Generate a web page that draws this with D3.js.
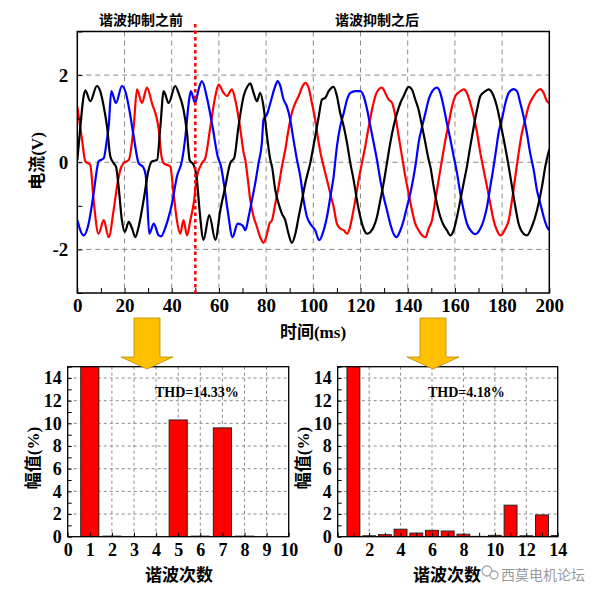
<!DOCTYPE html>
<html><head><meta charset="utf-8">
<script src="https://cdn.jsdelivr.net/npm/d3@7"></script>
<style>body{margin:0;background:#fff}svg{display:block}</style>
</head><body><svg id="c" width="608" height="593"></svg>
<script>
// ---- waveform data: [time ms, current V] ----
const blackPhase = [[0,0.05],[1.3,0.82],[2.7,1.52],[3.4,1.65],[5.5,1.4],[8.3,1.75],[9.7,1.63],[11.2,1.28],[12.6,0.82],[14.0,0.13],[15.4,-0.02],[16.4,-0.1],[17.5,-0.56],[18.9,-1.33],[20.1,-1.6],[21.8,-1.37],[23.2,-1.52],[24.6,-1.72],[26.0,-1.48],[28.1,-0.87],[30.2,-0.18],[31.6,0.02],[33.8,0.05],[35.2,0.82],[36.6,1.63],[38.7,1.36],[41.5,1.75],[42.9,1.59],[45.0,1.21],[46.5,0.67],[47.6,0.05],[49.3,-0.06],[50.7,-0.41],[51.8,-1.10],[53.5,-1.78],[55.9,-1.21],[58.5,-1.78],[60.6,-1.1],[62.7,-0.56],[64.8,-0.02],[66.5,0.1],[68.3,0.82],[70.5,1.52],[72.2,1.75],[73.3,1.81],[74.7,1.59],[76.1,1.40],[77.5,1.59],[78.9,1.28],[80.4,0.59],[81.8,0.05],[82.5,-0.1],[83.9,-0.64],[85.3,-0.95],[86.7,-1.18],[88.1,-1.33],[89.5,-1.64],[90.9,-1.85],[92.4,-1.64],[93.8,-1.25],[95.2,-0.87],[96.6,-0.48],[98.7,-0.02],[100.8,0.59],[102.3,1.05],[103.7,1.44],[105.1,1.48],[106.5,1.63],[108.6,1.73],[110.0,1.52],[111.4,1.13],[112.9,0.82],[114.3,0.44],[115.7,-0.02],[117.1,-0.41],[118.5,-0.87],[119.9,-1.25],[121.3,-1.52],[122.8,-1.64],[124.2,-1.6],[125.6,-1.48],[127.0,-1.25],[128.4,-0.87],[129.8,-0.48],[131.2,-0.02],[132.6,0.44],[134.0,0.82],[135.5,1.13],[136.9,1.36],[138.3,1.52],[140.4,1.73],[141.8,1.67],[143.2,1.44],[144.6,1.21],[146.1,0.82],[147.5,0.44],[148.9,0.05],[149.6,-0.1],[151.0,-0.56],[152.4,-0.95],[153.8,-1.25],[155.2,-1.44],[156.6,-1.56],[158.1,-1.68],[159.5,-1.56],[160.9,-1.25],[162.3,-0.87],[163.7,-0.48],[165.1,-0.1],[166.5,0.36],[168.0,0.82],[169.4,1.21],[170.8,1.52],[172.9,1.63],[174.3,1.67],[176.4,1.52],[177.8,1.28],[179.3,0.9],[180.7,0.52],[182.8,-0.1],[184.2,-0.56],[185.6,-1.02],[187.0,-1.41],[189.1,-1.64],[190.5,-1.68],[192.6,-1.48],[194.8,-1.1],[196.9,-0.56],[198.3,-0.1],[200,0.3]];
const bluePhase = [[0,-1.33],[2.7,-1.68],[4.8,-1.41],[6.9,-0.72],[8.5,-0.1],[9.0,0.02],[11.2,0.09],[12.5,0.5],[13.3,0.82],[14.4,1.63],[16.4,1.36],[18.9,1.75],[20.5,1.6],[21.8,1.28],[23.9,0.59],[26.0,-0.02],[28.0,-0.12],[29.0,-0.3],[29.5,-0.72],[30.5,-1.64],[32.4,-1.41],[34.5,-1.68],[35.5,-1.7],[37.3,-1.5],[38.5,-1.3],[40.1,-0.95],[42.2,-0.33],[44.4,0.05],[45.8,0.59],[47.2,1.36],[48.1,1.63],[49.9,1.36],[51.4,1.67],[52.8,1.86],[55.1,1.44],[57.3,0.82],[59.5,0.13],[60.9,-0.1],[62.3,-0.56],[63.7,-1.1],[65.8,-1.72],[67.9,-1.41],[70.0,-1.45],[71.2,-1.56],[72.6,-1.25],[74.0,-0.87],[75.4,-0.48],[76.8,-0.02],[78.2,0.44],[78.9,0.98],[80.4,1.1],[81.8,1.36],[83.9,1.75],[84.9,1.86],[86.0,1.75],[87.4,1.44],[88.8,1.28],[90.2,0.98],[91.6,0.52],[93.1,0.05],[94.5,-0.33],[95.9,-0.87],[97.3,-1.25],[98.7,-1.41],[100.8,-1.56],[102.5,-1.79],[104.4,-1.56],[105.8,-1.25],[107.2,-0.8],[108.6,-0.33],[110.0,0.36],[111.4,0.82],[112.9,1.13],[114.3,1.44],[115.7,1.59],[117.8,1.63],[119.9,1.63],[121.3,1.52],[122.8,1.21],[124.2,0.82],[125.6,0.44],[127.0,0.05],[128.4,-0.41],[129.8,-0.79],[131.2,-1.1],[132.6,-1.41],[134.0,-1.64],[135.2,-1.72],[136.9,-1.56],[138.3,-1.33],[139.7,-1.02],[141.1,-0.72],[142.5,-0.33],[143.5,0.0],[144.6,0.44],[146.1,0.82],[147.5,1.13],[148.9,1.44],[151.0,1.67],[152.4,1.71],[153.8,1.59],[155.2,1.28],[156.6,0.9],[158.1,0.52],[159.5,0.13],[160.9,-0.25],[162.3,-0.72],[163.7,-1.1],[165.1,-1.41],[167.2,-1.6],[168.6,-1.65],[170.8,-1.52],[172.2,-1.33],[173.6,-1.02],[175.0,-0.56],[176.4,-0.1],[177.5,0.3],[178.5,0.67],[179.9,0.98],[181.4,1.36],[182.8,1.59],[184.9,1.68],[186.3,1.63],[187.7,1.36],[189.1,1.05],[190.5,0.67],[191.9,0.21],[193.4,-0.18],[194.8,-0.65],[196.2,-0.95],[197.6,-1.25],[199.0,-1.48],[200,-1.56]];
const redPhase = [[0,1.28],[2.0,0.52],[3.4,0.02],[5.5,-0.06],[6.9,-0.87],[9.0,-1.64],[11.2,-1.33],[13.3,-1.72],[15.4,-1.1],[17.0,-0.5],[18.2,-0.18],[19.6,-0.02],[21.8,0.05],[23.9,0.82],[25.3,1.67],[27.4,1.36],[29.5,1.71],[31.6,1.36],[34.5,0.75],[35.5,0.2],[36.6,-0.02],[39.4,-0.1],[40.8,-0.72],[42.2,-1.33],[43.6,-1.64],[45.0,-1.33],[46.5,-1.68],[47.9,-1.33],[49.3,-0.95],[50.7,-0.33],[52.8,-0.02],[54.2,0.09],[56.4,0.82],[58.5,1.52],[59.9,1.78],[62.0,1.59],[63.4,1.52],[65.5,1.67],[66.9,1.44],[69.1,0.75],[70.5,0.21],[71.2,0.05],[72.3,-0.41],[73.3,-0.87],[74.7,-1.25],[76.1,-1.48],[77.5,-1.72],[78.9,-1.85],[80.4,-1.64],[81.4,-1.41],[82.5,-1.33],[83.9,-0.95],[85.3,-0.56],[86.7,-0.1],[88.1,0.28],[89.5,0.75],[90.9,1.13],[92.4,1.36],[93.8,1.52],[95.5,1.75],[96.6,1.82],[98.0,1.71],[99.4,1.36],[100.8,0.98],[102.3,0.44],[103.7,0.05],[105.1,-0.25],[106.5,-0.56],[107.9,-0.87],[108.6,-1.02],[110.0,-1.41],[111.4,-1.52],[112.9,-1.56],[114.3,-1.64],[115.4,-1.52],[116.5,-1.25],[117.8,-0.87],[119.2,-0.41],[120.6,-0.02],[122.0,0.36],[123.5,0.82],[124.9,1.21],[126.3,1.52],[127.7,1.67],[129.1,1.71],[130.5,1.59],[131.9,1.44],[133.4,1.36],[134.8,1.05],[136.2,0.59],[137.6,0.13],[139.0,-0.33],[140.4,-0.72],[141.8,-1.1],[143.2,-1.41],[144.6,-1.56],[146.1,-1.68],[147.5,-1.72],[148.9,-1.52],[150.3,-1.33],[151.7,-0.87],[153.1,-0.41],[154.5,0.05],[156.0,0.52],[157.4,0.9],[158.8,1.28],[160.2,1.52],[162.3,1.63],[163.7,1.67],[165.1,1.59],[166.5,1.36],[168.0,1.05],[169.4,0.67],[170.8,0.21],[172.2,-0.18],[173.6,-0.56],[175.0,-0.95],[176.4,-1.33],[177.8,-1.56],[179.3,-1.68],[180.7,-1.6],[181.4,-1.52],[182.8,-1.33],[184.2,-0.87],[185.6,-0.33],[187.0,0.21],[188.4,0.67],[189.8,0.98],[191.2,1.28],[193.4,1.52],[194.8,1.63],[196.2,1.68],[197.6,1.59],[199.0,1.4],[200,1.36]];
const switchTime = 50;
const timeTicks = [0,20,40,60,80,100,120,140,160,180,200];
const currentTicks = [-2,0,2];

// ---- harmonic spectra ----
const orderBefore = [1,2,5,6,7,8];
const ampBefore   = [100,0.05,10.3,0.05,9.6,0.05];
const orderAfter  = [1,2,3,4,5,6,7,8,9,10,11,12,13,14];
const ampAfter    = [100,0.08,0.18,0.66,0.32,0.56,0.5,0.22,0.03,0.12,2.78,0.08,1.92,0.1];
const ampTicks = [0,2,4,6,8,10,12,14];
const thdBefore = "THD=14.33%";
const thdAfter  = "THD=4.18%";

const CJK = "'Noto Sans CJK SC','Noto Sans',sans-serif";
const SERIF = "'Liberation Serif','Times New Roman',serif";
const svg = d3.select("#c");
const defs = svg.append("defs");

// ================= top waveform chart =================
const xT = d3.scaleLinear([0,200],[77.3,549.3]);
const yT = d3.scaleLinear([-3,3],[293,31.5]);
defs.append("clipPath").attr("id","clipT").append("rect")
  .attr("x",xT(0)).attr("y",yT(3)).attr("width",xT(200)-xT(0)).attr("height",yT(-3)-yT(3));

const gT = svg.append("g");
gT.append("g").selectAll("line").data(timeTicks.slice(1,-1)).join("line")
  .attr("x1",d=>xT(d)).attr("x2",d=>xT(d)).attr("y1",yT(3)).attr("y2",yT(-3))
  .attr("stroke","#8a8a8a").attr("stroke-width",1).attr("stroke-dasharray","5,4");
gT.append("g").selectAll("line").data(currentTicks).join("line")
  .attr("x1",xT(0)).attr("x2",xT(200)).attr("y1",d=>yT(d)).attr("y2",d=>yT(d))
  .attr("stroke","#8a8a8a").attr("stroke-width",1).attr("stroke-dasharray","5,4");

const line = d3.line().x(d=>xT(d[0])).y(d=>yT(d[1])).curve(d3.curveMonotoneX);
const waves = gT.append("g").attr("clip-path","url(#clipT)");
[[redPhase,"#ff0000"],[bluePhase,"#0000ff"],[blackPhase,"#000000"]].forEach(([d,c])=>{
  waves.append("path").datum(d).attr("d",line).attr("fill","none")
    .attr("stroke",c).attr("stroke-width",2.2).attr("stroke-linejoin","round");
});

const axB = d3.axisBottom(xT).tickValues(d3.range(0,201,10))
  .tickFormat(d=> d%20===0 ? d : "").tickSizeInner(-5).tickSizeOuter(0).tickPadding(6);
gT.append("g").attr("transform",`translate(0,${yT(-3)})`).call(axB);
const axL = d3.axisLeft(yT).tickValues([-3,-2,-1,0,1,2,3])
  .tickFormat(d=> currentTicks.includes(d) ? d : "").tickSizeInner(-5).tickSizeOuter(0).tickPadding(9);
gT.append("g").attr("transform",`translate(${xT(0)},0)`).call(axL);
gT.selectAll(".tick text").filter(function(){return this.textContent===""}).remove();
gT.selectAll(".tick text").attr("font-family",SERIF).attr("font-weight","bold").attr("font-size",19).attr("fill","#000");
gT.selectAll(".domain").remove();
gT.append("rect").attr("x",xT(0)).attr("y",yT(3)).attr("width",xT(200)-xT(0)).attr("height",yT(-3)-yT(3))
  .attr("fill","none").attr("stroke","#000").attr("stroke-width",1.5);

gT.append("line").attr("x1",xT(switchTime)).attr("x2",xT(switchTime)).attr("y1",24).attr("y2",yT(-3))
  .attr("stroke","#ff0000").attr("stroke-width",2.5).attr("stroke-dasharray","3.5,3");

gT.append("text").attr("x",141).attr("y",25).attr("text-anchor","middle")
  .attr("font-family",CJK).attr("font-weight","bold").attr("font-size",14).text("谐波抑制之前");
gT.append("text").attr("x",377).attr("y",25).attr("text-anchor","middle")
  .attr("font-family",CJK).attr("font-weight","bold").attr("font-size",14).text("谐波抑制之后");
const yl = gT.append("text").attr("transform","translate(43,161) rotate(-90)").attr("text-anchor","middle")
  .attr("font-weight","bold").attr("font-size",17);
yl.append("tspan").attr("font-family",CJK).text("电流");
yl.append("tspan").attr("font-family",SERIF).text("(V)");
const xl = gT.append("text").attr("x",313).attr("y",337.5).attr("text-anchor","middle")
  .attr("font-weight","bold").attr("font-size",17);
xl.append("tspan").attr("font-family",CJK).text("时间");
xl.append("tspan").attr("font-family",SERIF).text("(ms)");

// ================= spectra =================
function spectrum(id, x0, x1, xmax, xTickStep, gridStep, orders, amps, thd, thdX, labelX, ylabX){
  const xs = d3.scaleLinear([0,xmax],[x0,x1]);
  const ys = d3.scaleLinear([0,15],[536.7,366.7]);
  const g = svg.append("g");
  defs.append("clipPath").attr("id",id).append("rect")
    .attr("x",x0).attr("y",ys(15)).attr("width",x1-x0).attr("height",ys(0)-ys(15));
  g.append("g").selectAll("line").data(d3.range(gridStep,xmax,gridStep)).join("line")
    .attr("x1",d=>xs(d)).attr("x2",d=>xs(d)).attr("y1",ys(15)).attr("y2",ys(0))
    .attr("stroke","#8a8a8a").attr("stroke-width",1).attr("stroke-dasharray","3,3");
  g.append("g").selectAll("line").data(ampTicks.slice(1)).join("line")
    .attr("x1",x0).attr("x2",x1).attr("y1",d=>ys(d)).attr("y2",d=>ys(d))
    .attr("stroke","#8a8a8a").attr("stroke-width",1).attr("stroke-dasharray","3,3");
  const bw = (xs(0.82)-xs(0));
  g.append("g").attr("clip-path",`url(#${id})`).selectAll("rect").data(orders).join("rect")
    .attr("x",(d)=>xs(d)-bw/2).attr("width",bw)
    .attr("y",(d,i)=>ys(amps[i])).attr("height",(d,i)=>Math.max(0.6,ys(0)-ys(amps[i])))
    .attr("fill","#ff0000").attr("stroke","#222").attr("stroke-width",1);
  const ax = d3.axisBottom(xs).tickValues(d3.range(0,xmax+1,1))
    .tickFormat(d=> d%xTickStep===0 ? d : "").tickSizeInner(-4).tickSizeOuter(0).tickPadding(7);
  g.append("g").attr("transform",`translate(0,${ys(0)})`).call(ax);
  const ay = d3.axisLeft(ys).tickValues(d3.range(0,16,1))
    .tickFormat(d=> ampTicks.includes(d) ? d : "").tickSizeInner(-4).tickSizeOuter(0).tickPadding(6);
  g.append("g").attr("transform",`translate(${x0},0)`).call(ay);
  g.selectAll(".tick text").filter(function(){return this.textContent===""}).remove();
  g.selectAll(".tick text").attr("font-family",SERIF).attr("font-weight","bold").attr("font-size",18).attr("fill","#000");
  g.selectAll(".domain").remove();
  g.append("rect").attr("x",x0).attr("y",ys(15)).attr("width",x1-x0).attr("height",ys(0)-ys(15))
    .attr("fill","none").attr("stroke","#000").attr("stroke-width",1.3);
  g.append("text").attr("x",thdX).attr("y",397).attr("font-family",SERIF).attr("font-weight","bold")
    .attr("font-size",14).text(thd);
  g.append("text").attr("x",labelX).attr("y",581).attr("text-anchor","middle")
    .attr("font-family",CJK).attr("font-weight","bold").attr("font-size",17).text("谐波次数");
  const t = g.append("text").attr("transform",`translate(${ylabX},458) rotate(-90)`).attr("text-anchor","middle")
    .attr("font-weight","bold").attr("font-size",17);
  t.append("tspan").attr("font-family",CJK).text("幅值");
  t.append("tspan").attr("font-family",SERIF).text("(%)");
}
spectrum("clipL",67.7,288.7,10,1,1,orderBefore,ampBefore,thdBefore,155,179,39);
spectrum("clipR",337.7,557.7,14,2,2,orderAfter,ampAfter,thdAfter,428,447,309);

// ================= arrows =================
function arrow(cx){
  const p = [[cx-13,318],[cx+13,318],[cx+13,357],[cx+26,357],[cx,369],[cx-26,357],[cx-13,357]];
  svg.append("path").attr("d",d3.line()(p)+"Z").attr("fill","#ffc000").attr("stroke","#b88a00").attr("stroke-width",0.8);
}
arrow(147); arrow(433);

// ================= watermark =================
const wm = svg.append("g").attr("opacity",0.75);
wm.append("circle").attr("cx",487).attr("cy",571).attr("r",5).attr("fill","none").attr("stroke","#888").attr("stroke-width",1.3);
wm.append("circle").attr("cx",494).attr("cy",575).attr("r",4).attr("fill","#fff").attr("stroke","#888").attr("stroke-width",1.3);
wm.append("text").attr("x",501).attr("y",580).attr("font-family",CJK).attr("font-size",14).attr("fill","#777").text("西莫电机论坛");
</script></body></html>
